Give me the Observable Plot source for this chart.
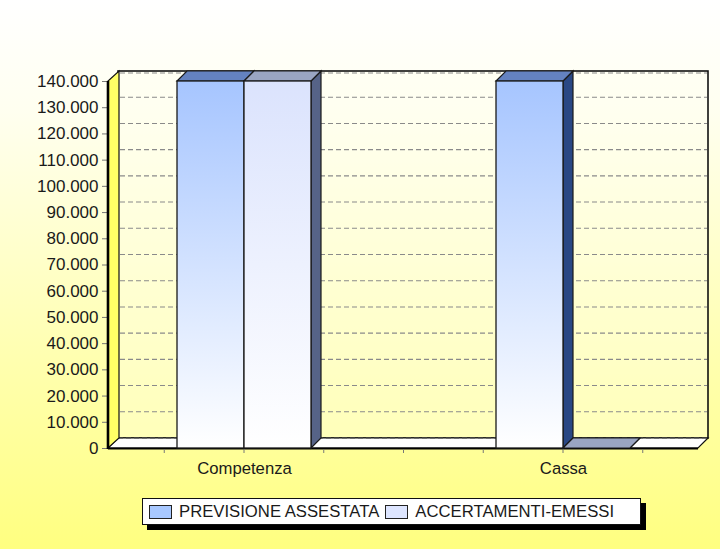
<!DOCTYPE html>
<html>
<head>
<meta charset="utf-8">
<script src="https://cdn.jsdelivr.net/npm/d3@7"></script>
<script src="https://cdn.jsdelivr.net/npm/@observablehq/plot@0.6"></script>
<style>
  html, body { margin: 0; padding: 0; }
  body { width: 720px; height: 549px; overflow: hidden;
         background: linear-gradient(#ffffff 0%, #fffff0 20%, #ffffb0 65%, #ffff80 100%);
         font-family: "Liberation Sans", Arial, sans-serif; }
  #chart { position: relative; width: 720px; height: 549px; }
  #legend { position: absolute; left: 142px; top: 498px; width: 497px; height: 25px;
            background: #fff; border: 1.5px solid #111; box-shadow: 5px 5px 0 #000;
            display: flex; align-items: center; font-size: 16.7px; color: #1a1a1a; white-space: nowrap; }
  #legend .sw { display: inline-block; width: 21px; height: 12px; border: 1.5px solid #222; margin: 0 7px 0 6px; }
</style>
</head>
<body>
<div id="chart"></div>
<script>
// ---- data ----
const categories = ["Competenza", "Cassa"];
const seriesNames = ["PREVISIONE ASSESTATA", "ACCERTAMENTI-EMESSI"];
const previsioneAssestata = [140000, 140000];
const accertamentiEmessi = [140000, 0];
const yTickValues = [0, 10000, 20000, 30000, 40000, 50000, 60000, 70000, 80000, 90000, 100000, 110000, 120000, 130000, 140000];

// ---- styles ----
const frontTop = ["#a6c5ff", "#dbe3fd"];
const topColor = ["#6482c0", "#9aa5c2"];
const sideColor = ["#294784", "#566387"];
const depthX = 10, depthY = 10, barW = 67;

const rows = [];
categories.forEach((c, i) => {
  rows.push({category: c, series: 0, value: previsioneAssestata[i]});
  rows.push({category: c, series: 1, value: accertamentiEmessi[i]});
});

const fmt = d3.formatLocale({decimal: ",", thousands: ".", grouping: [3], currency: ["€", ""]}).format(",d");

function scene(index, scales, values, dims) {
  const x = scales.x, y = scales.y;
  const g = d3.create("svg:g");
  const defs = g.append("defs");
  frontTop.forEach((c, i) => {
    const lg = defs.append("linearGradient").attr("id", "fg" + i)
      .attr("x1", 0).attr("y1", 0).attr("x2", 0).attr("y2", 1);
    lg.append("stop").attr("offset", "0%").attr("stop-color", c);
    lg.append("stop").attr("offset", "100%").attr("stop-color", "#ffffff");
  });
  const L = dims.marginLeft, R = dims.width - dims.marginRight;
  const yMax = y(yTickValues[yTickValues.length - 1]), y0 = y(0);
  const poly = pts => pts.map(p => p.join(",")).join(" ");

  // back wall
  g.append("rect").attr("x", L + depthX).attr("y", yMax - depthY)
    .attr("width", R - L).attr("height", y0 - yMax)
    .attr("fill", "rgba(255,255,240,0.35)").attr("stroke", "#111").attr("stroke-width", 1.6);
  // gridlines
  yTickValues.forEach(v => {
    if (v === 0) return;
    const top = v === yTickValues[yTickValues.length - 1] ? 2 : 0;
    g.append("line").attr("x1", L + depthX + 2).attr("x2", R + depthX - 1)
      .attr("y1", y(v) - depthY + top).attr("y2", y(v) - depthY + top)
      .attr("stroke", "#8a8a8a").attr("stroke-width", 1.1).attr("stroke-dasharray", "5,3");
  });
  // floor
  g.append("polygon").attr("points", poly([[L, y0], [R, y0], [R + depthX, y0 - depthY], [L + depthX, y0 - depthY]]))
    .attr("fill", "#ffffff").attr("stroke", "#111").attr("stroke-width", 1.2);
  g.append("line").attr("x1", L + depthX).attr("x2", R + depthX).attr("y1", y0 - depthY).attr("y2", y0 - depthY)
    .attr("stroke", "#555").attr("stroke-width", 1.1).attr("stroke-dasharray", "5,3");
  g.append("line").attr("x1", L).attr("x2", R).attr("y1", y0 + 0.5).attr("y2", y0 + 0.5)
    .attr("stroke", "#000").attr("stroke-width", 2.2);
  // left wall
  g.append("polygon").attr("points", poly([[L, y0], [L, yMax], [L + depthX + 1, yMax - depthY], [L + depthX + 1, y0 - depthY]]))
    .attr("fill", "#ffff66").attr("stroke", "#111").attr("stroke-width", 1.2);
  g.append("line").attr("x1", L).attr("x2", L).attr("y1", y0 + 1).attr("y2", yMax)
    .attr("stroke", "#000").attr("stroke-width", 2.6);

  // x minor ticks
  const step = x.step();
  for (let k = -1; k <= 5; k++) {
    const tx = x(categories[0]) + k * step / 4;
    g.append("line").attr("x1", tx).attr("x2", tx).attr("y1", y0 + 1).attr("y2", y0 + 5)
      .attr("stroke", "#777").attr("stroke-width", 1);
  }

  // bars
  for (const d of rows) {
    const xl = x(d.category) - barW + d.series * barW, xr = xl + barW;
    const yt = y(d.value);
    g.append("polygon").attr("points", poly([[xr, y0], [xr, yt], [xr + depthX, yt - depthY], [xr + depthX, y0 - depthY]]))
      .attr("fill", sideColor[d.series]).attr("stroke", "#1a1a1a").attr("stroke-width", 1.2);
    g.append("polygon").attr("points", poly([[xl, yt], [xr, yt], [xr + depthX, yt - depthY], [xl + depthX, yt - depthY]]))
      .attr("fill", topColor[d.series]).attr("stroke", "#1a1a1a").attr("stroke-width", 1.2);
    if (y0 - yt > 0.5) {
      g.append("rect").attr("x", xl).attr("y", yt).attr("width", barW).attr("height", y0 - yt)
        .attr("fill", `url(#fg${d.series})`).attr("stroke", "#1a1a1a").attr("stroke-width", 1.3);
    }
  }
  return g.node();
}

const plot = Plot.plot({
  width: 720,
  height: 490,
  marginLeft: 108,
  marginRight: 22,
  marginTop: 81,
  marginBottom: 42,
  style: {background: "transparent", fontFamily: "'Liberation Sans', Arial, sans-serif", fontSize: "17px", color: "#1a1a1a"},
  x: {type: "point", domain: categories, padding: 0.4219},
  y: {domain: [0, 140000]},
  marks: [
    Plot.axisY({ticks: yTickValues, tickFormat: fmt, tickSize: 6, tickPadding: 4, fontSize: 17, stroke: "#777", fill: "#1a1a1a"}),
    Plot.axisX({tickSize: 0, tickPadding: 14, fontSize: 16.7, fill: "#1a1a1a"}),
    scene
  ]
});
document.getElementById("chart").appendChild(plot);

const legend = document.createElement("div");
legend.id = "legend";
legend.innerHTML = seriesNames.map((s, i) =>
  `<span class="sw" style="background:${["#a8c8ff", "#dde5ff"][i]}"></span><span>${s}</span>`).join("");
document.getElementById("chart").appendChild(legend);
</script>
</body>
</html>
